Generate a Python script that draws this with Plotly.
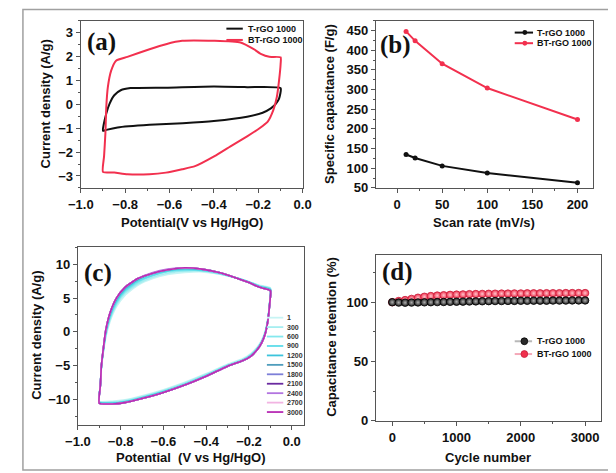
import plotly.graph_objects as go

W, H = 616, 473

# ---------------- Panel (a): CV curves ----------------
pot_a_t = [-0.9, -0.885, -0.87, -0.849, -0.82, -0.776, -0.616, -0.40, -0.25, -0.099,
           -0.106, -0.12, -0.143, -0.18, -0.25, -0.40, -0.54, -0.69, -0.834, -0.885, -0.9]
cur_a_t = [-1.11, -0.38, 0.03, 0.38, 0.59, 0.68, 0.70, 0.75, 0.72, 0.68,
           0.24, 0.03, -0.17, -0.35, -0.52, -0.70, -0.79, -0.86, -0.97, -1.07, -1.11]
pot_a_bt = [-0.9, -0.895, -0.889, -0.885, -0.878, -0.863, -0.841, -0.79, -0.69, -0.616, -0.543,
            -0.397, -0.28, -0.22, -0.186, -0.15, -0.099,
            -0.099, -0.106, -0.116, -0.132, -0.157, -0.194, -0.25, -0.325, -0.397, -0.485,
            -0.543, -0.616, -0.69, -0.79, -0.849, -0.9]
cur_a_bt = [-2.83, -2.17, -1.21, -0.10, 0.72, 1.41, 1.83, 1.99, 2.31, 2.52, 2.66,
            2.66, 2.59, 2.31, 2.10, 1.99, 1.97,
            1.69, 1.00, 0.31, -0.24, -0.72, -1.00, -1.34, -1.76, -2.17, -2.59,
            -2.72, -2.86, -2.93, -2.93, -2.86, -2.83]

# ---------------- Panel (b): specific capacitance ----------------
scan_rate = [10, 20, 50, 100, 200]
cap_t = [135, 126, 106, 88, 63]
cap_bt = [448, 424, 366, 304, 224]

# ---------------- Panel (c): cycling CV ----------------
pot_c = [-0.9, -0.895, -0.89, -0.88, -0.87, -0.85, -0.82, -0.78, -0.72, -0.65, -0.58, -0.5,
         -0.42, -0.34, -0.26, -0.2, -0.15, -0.1,
         -0.103, -0.108, -0.115, -0.125, -0.14, -0.16, -0.19, -0.23, -0.3, -0.4, -0.5,
         -0.6, -0.7, -0.78, -0.84, -0.9]
j_1 = [-10.3, -7.9, -5.3, -2.9, -0.9, 1.5, 3.7, 5.4, 6.9, 7.9, 8.5, 8.8, 8.9, 8.6, 8.0, 7.4, 6.9, 6.5,
       4.6, 3.0, 1.4, 0.0, -1.2, -2.2, -3.2, -4.0, -4.8, -6.2, -7.5, -8.6, -9.5, -10.1, -10.3, -10.3]
j_300 = [-10.35, -7.9, -5.2, -2.7, -0.7, 1.8, 4.0, 5.7, 7.1, 8.1, 8.7, 9.0, 9.0, 8.6, 8.0, 7.4, 6.8, 6.4,
         4.5, 2.9, 1.3, -0.1, -1.3, -2.3, -3.3, -4.1, -4.9, -6.3, -7.6, -8.7, -9.6, -10.2, -10.4, -10.35]
j_600 = [-10.4, -7.9, -5.2, -2.6, -0.5, 2.0, 4.2, 5.9, 7.3, 8.3, 8.9, 9.1, 9.1, 8.7, 8.0, 7.4, 6.8, 6.4,
         4.4, 2.8, 1.2, -0.2, -1.4, -2.4, -3.4, -4.2, -5.0, -6.4, -7.7, -8.8, -9.7, -10.3, -10.5, -10.4]
j_900 = [-10.45, -8.0, -5.1, -2.5, -0.3, 2.2, 4.4, 6.1, 7.5, 8.4, 9.0, 9.2, 9.1, 8.7, 8.0, 7.4, 6.7, 6.3,
         4.4, 2.7, 1.1, -0.3, -1.5, -2.5, -3.5, -4.2, -5.0, -6.5, -7.8, -8.9, -9.8, -10.4, -10.6, -10.45]
j_1200 = [-10.5, -8.0, -5.1, -2.4, -0.1, 2.5, 4.7, 6.3, 7.7, 8.6, 9.1, 9.4, 9.2, 8.8, 8.0, 7.3, 6.7, 6.2,
          4.3, 2.7, 1.1, -0.3, -1.5, -2.5, -3.5, -4.3, -5.1, -6.5, -7.8, -8.9, -9.8, -10.4, -10.6, -10.5]
j_1500 = [-10.55, -8.0, -5.0, -2.3, 0.0, 2.7, 4.9, 6.5, 7.8, 8.7, 9.2, 9.4, 9.3, 8.8, 8.0, 7.3, 6.6, 6.2,
          4.2, 2.6, 1.0, -0.4, -1.6, -2.6, -3.6, -4.3, -5.1, -6.6, -7.9, -9.0, -9.9, -10.5, -10.7, -10.55]
j_1800 = [-10.6, -8.0, -5.0, -2.2, 0.1, 2.7, 5.0, 6.6, 7.9, 8.7, 9.2, 9.5, 9.3, 8.8, 8.0, 7.3, 6.6, 6.1,
          4.2, 2.6, 1.0, -0.4, -1.6, -2.6, -3.6, -4.3, -5.1, -6.6, -7.9, -9.0, -9.9, -10.5, -10.7, -10.6]
j_2100 = [-10.6, -8.0, -5.0, -2.2, 0.2, 2.8, 5.0, 6.6, 7.9, 8.7, 9.2, 9.5, 9.3, 8.8, 8.0, 7.3, 6.6, 6.1,
          4.2, 2.6, 1.0, -0.4, -1.6, -2.6, -3.6, -4.3, -5.1, -6.6, -7.9, -9.0, -9.9, -10.5, -10.7, -10.6]
j_2400 = [-10.6, -8.0, -5.0, -2.2, 0.2, 2.8, 5.0, 6.6, 7.9, 8.8, 9.3, 9.5, 9.3, 8.8, 8.0, 7.3, 6.6, 6.1,
          4.2, 2.6, 1.0, -0.4, -1.6, -2.6, -3.6, -4.3, -5.1, -6.6, -7.9, -9.0, -9.9, -10.5, -10.7, -10.6]
j_2700 = [-10.6, -8.0, -5.0, -2.2, 0.2, 2.8, 5.0, 6.6, 7.9, 8.7, 9.2, 9.5, 9.3, 8.8, 8.0, 7.3, 6.6, 6.1,
          4.2, 2.6, 1.0, -0.4, -1.6, -2.6, -3.6, -4.3, -5.1, -6.6, -7.9, -9.0, -9.9, -10.5, -10.7, -10.6]
j_3000 = [-10.6, -8.0, -5.0, -2.2, 0.2, 2.8, 5.0, 6.6, 7.9, 8.7, 9.2, 9.5, 9.3, 8.8, 8.0, 7.3, 6.6, 6.1,
          4.2, 2.6, 1.0, -0.4, -1.6, -2.6, -3.6, -4.3, -5.1, -6.6, -7.9, -9.0, -9.9, -10.5, -10.7, -10.6]
cycle_labels = ["1", "300", "600", "900", "1200", "1500", "1800", "2100", "2400", "2700", "3000"]
cycle_currents = [j_1, j_300, j_600, j_900, j_1200, j_1500, j_1800, j_2100, j_2400, j_2700, j_3000]
cycle_colors = ["#c8f4f4", "#a6eef0", "#84e8ee", "#5ddcea", "#3cc4dc", "#4f9dbc",
                "#7d7fd8", "#6a2aa0", "#b274e0", "#f2b4e2", "#b82cb4"]

# ---------------- Panel (d): capacitance retention ----------------
cycle_num = [0, 100, 200, 300, 400, 500, 600, 700, 800, 900, 1000, 1100, 1200, 1300, 1400, 1500,
             1600, 1700, 1800, 1900, 2000, 2100, 2200, 2300, 2400, 2500, 2600, 2700, 2800, 2900, 3000]
ret_t = [100.0, 99.7, 99.6, 99.7, 99.8, 99.9, 100.0, 100.1, 100.2, 100.3, 100.4, 100.5, 100.6, 100.7,
         100.8, 100.9, 101.0, 101.0, 101.1, 101.1, 101.2, 101.2, 101.3, 101.3, 101.3, 101.4, 101.4,
         101.4, 101.5, 101.5, 101.5]
ret_bt = [100.0, 101.0, 101.8, 102.8, 103.8, 104.6, 105.2, 105.6, 105.9, 106.2, 106.4, 106.6, 106.8,
          106.9, 107.0, 107.1, 107.2, 107.3, 107.3, 107.4, 107.4, 107.5, 107.5, 107.5, 107.6, 107.6,
          107.6, 107.7, 107.7, 107.7, 107.7]

series_names = ["T-rGO 1000", "BT-rGO 1000"]
BLACK = "#111111"
RED = "#f2304e"


def px(x):
    return x / W


def py(y):
    return 1 - y / H


fig = go.Figure()

# (a)
fig.add_trace(go.Scatter(x=pot_a_t, y=cur_a_t, mode="lines",
                         line=dict(color=BLACK, width=2, shape="spline", smoothing=0.5),
                         xaxis="x", yaxis="y", showlegend=False))
fig.add_trace(go.Scatter(x=pot_a_bt, y=cur_a_bt, mode="lines",
                         line=dict(color=RED, width=2, shape="spline", smoothing=0.5),
                         xaxis="x", yaxis="y", showlegend=False))
# (b)
fig.add_trace(go.Scatter(x=scan_rate, y=cap_t, mode="lines+markers", line=dict(color=BLACK, width=2),
                         marker=dict(color=BLACK, size=5), xaxis="x2", yaxis="y2", showlegend=False))
fig.add_trace(go.Scatter(x=scan_rate, y=cap_bt, mode="lines+markers", line=dict(color=RED, width=2),
                         marker=dict(color=RED, size=5), xaxis="x2", yaxis="y2", showlegend=False))
# (c)
for cur, col in zip(cycle_currents, cycle_colors):
    fig.add_trace(go.Scatter(x=pot_c, y=cur, mode="lines",
                             line=dict(color=col, width=1.6, shape="spline", smoothing=0.5),
                             xaxis="x3", yaxis="y3", showlegend=False))
# (d)
fig.add_trace(go.Scatter(x=cycle_num, y=ret_bt, mode="markers",
                         marker=dict(color="#f0304c", size=7.5, line=dict(color="#c81e3c", width=0.8),
                                     gradient=dict(type="radial", color="#ffc4cc")),
                         xaxis="x4", yaxis="y4", showlegend=False))
fig.add_trace(go.Scatter(x=cycle_num, y=ret_t, mode="markers",
                         marker=dict(color="#1a1a1a", size=7.5, line=dict(color="#000000", width=0.8),
                                     gradient=dict(type="radial", color="#b0b0b0")),
                         xaxis="x4", yaxis="y4", showlegend=False))

tickfont = dict(family="Liberation Sans, Arial, sans-serif", size=13, color="#111111", weight="bold")
axcommon = dict(showline=True, linecolor="#555555", linewidth=1.2, mirror=True, ticks="outside",
                ticklen=4, tickcolor="#555555", tickwidth=1, showgrid=False, zeroline=False,
                tickfont=tickfont)

fig.update_layout(
    width=W, height=H, margin=dict(l=0, r=0, t=0, b=0),
    paper_bgcolor="white", plot_bgcolor="white", showlegend=False,
    xaxis=dict(domain=[px(62), px(292)], range=[-1.0, 0.0], dtick=0.2, tick0=-1.0, tickformat=".1f",
               minor=dict(ticks="outside", ticklen=2, dtick=0.1, tickcolor="#555555"), anchor="y", **axcommon),
    yaxis=dict(domain=[py(183), py(13)], range=[-3.5, 3.5], dtick=1,
               minor=dict(ticks="outside", ticklen=2, dtick=0.5, tickcolor="#555555"), anchor="x", **axcommon),
    xaxis2=dict(domain=[px(368), px(593)], range=[-23.5, 217], dtick=50, tick0=0,
                minor=dict(ticks="outside", ticklen=2, dtick=25, tickcolor="#555555"), anchor="y2", **axcommon),
    yaxis2=dict(domain=[py(183), py(13)], range=[50, 475], dtick=50, tick0=0,
                minor=dict(ticks="outside", ticklen=2, dtick=25, tickcolor="#555555"), anchor="x2", **axcommon),
    xaxis3=dict(domain=[px(59), px(293)], range=[-1.0, 0.055], dtick=0.2, tick0=-1.0, tickformat=".1f",
                minor=dict(ticks="outside", ticklen=2, dtick=0.1, tickcolor="#555555"), anchor="y3", **axcommon),
    yaxis3=dict(domain=[py(424), py(243)], range=[-13.8, 12.6], dtick=5, tick0=0,
                minor=dict(ticks="outside", ticklen=2, dtick=2.5, tickcolor="#555555"), anchor="x3", **axcommon),
    xaxis4=dict(domain=[px(368), px(601)], range=[-255, 3240], dtick=1000, tick0=0,
                minor=dict(ticks="outside", ticklen=2, dtick=500, tickcolor="#555555"), anchor="y4", **axcommon),
    yaxis4=dict(domain=[py(420), py(251)], range=[0, 140], dtick=50, tick0=0,
                minor=dict(ticks="outside", ticklen=2, dtick=25, tickcolor="#555555"), anchor="x4", **axcommon),
)

titlefont = dict(family="Liberation Sans, Arial, sans-serif", size=13, color="#111111")
labfont = dict(family="Liberation Serif, Times New Roman, serif", size=25, color="#111111")
annotations = []


def ann(text, x, y, font, angle=0, xanchor="center"):
    annotations.append(dict(text=text, x=px(x), y=py(y), xref="paper", yref="paper", showarrow=False,
                            font=font, textangle=angle, xanchor=xanchor, yanchor="middle"))


# axis titles
ann("<b>Potential(V vs Hg/HgO)</b>", 177, 218, titlefont)
ann("<b>Current density (A/g)</b>", 25, 98, titlefont, angle=-90)
ann("<b>Scan rate (mV/s)</b>", 480, 218, titlefont)
ann("<b>Specific capacitance (F/g)</b>", 320, 98, titlefont, angle=-90)
ann("<b>Potential  (V vs Hg/HgO)</b>", 176, 457, titlefont)
ann("<b>Current density (A/g)</b>", 16, 333, titlefont, angle=-90)
ann("<b>Cycle number</b>", 484, 457, titlefont)
ann("<b>Capacitance retention (%)</b>", 322, 335, titlefont, angle=-90)
# panel labels
ann("<b>(a)</b>", 83, 35, labfont)
ann("<b>(b)</b>", 388, 38, labfont)
ann("<b>(c)</b>", 80, 270, labfont)
ann("<b>(d)</b>", 390, 269, labfont)

shapes = []
legfont = dict(family="Liberation Sans, Arial, sans-serif", size=9, color="#111111")

# outer frame
shapes.append(dict(type="rect", xref="paper", yref="paper", x0=px(2), x1=px(614), y0=py(470), y1=py(1.5),
                   line=dict(color="#a0a0a0", width=1.5)))

# legend (a)
for i, (nm, col) in enumerate(zip(series_names, [BLACK, RED])):
    yy = 21 + i * 11.5
    shapes.append(dict(type="line", xref="paper", yref="paper", x0=px(213), x1=px(230), y0=py(yy), y1=py(yy),
                       line=dict(color=col, width=2)))
    ann("<b>" + nm + "</b>", 233, yy, legfont, xanchor="left")

# legend (b)
for i, (nm, col) in enumerate(zip(series_names, [BLACK, RED])):
    yy = 25 + i * 10.8
    shapes.append(dict(type="line", xref="paper", yref="paper", x0=px(512), x1=px(531), y0=py(yy), y1=py(yy),
                       line=dict(color=col, width=2)))
    shapes.append(dict(type="circle", xref="paper", yref="paper", x0=px(520), x1=px(525), y0=py(yy + 2.5),
                       y1=py(yy - 2.5), fillcolor=col, line=dict(color=col, width=0)))
    ann("<b>" + nm + "</b>", 533, yy, legfont, xanchor="left")

# legend (c)
smallfont = dict(family="Liberation Sans, Arial, sans-serif", size=7, color="#333333")
for i, (lab, col) in enumerate(zip(cycle_labels, cycle_colors)):
    yy = 315 + i * 9.6
    shapes.append(dict(type="line", xref="paper", yref="paper", x0=px(255), x1=px(272), y0=py(yy), y1=py(yy),
                       line=dict(color=col, width=1.8)))
    ann("<b>" + lab + "</b>", 273.5, yy, smallfont, xanchor="left")

# legend (d)
for i, (nm, lc, fc, ec) in enumerate(zip(series_names, ["#b8b8b8", "#f4a8b8"], ["#2a2a2a", "#f0304c"],
                                        ["#000000", "#c81e3c"])):
    yy = 339 + i * 13
    shapes.append(dict(type="line", xref="paper", yref="paper", x0=px(512), x1=px(530), y0=py(yy), y1=py(yy),
                       line=dict(color=lc, width=2)))
    shapes.append(dict(type="circle", xref="paper", yref="paper", x0=px(518.5), x1=px(525.5), y0=py(yy + 3.5),
                       y1=py(yy - 3.5), fillcolor=fc, line=dict(color=ec, width=0.8)))
    ann("<b>" + nm + "</b>", 533, yy, legfont, xanchor="left")

fig.update_layout(annotations=annotations, shapes=shapes)
fig.write_html("out.html")
